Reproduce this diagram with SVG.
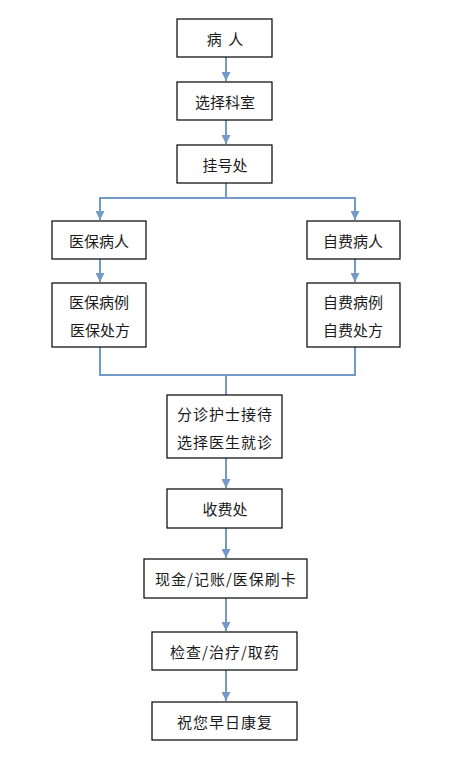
<svg xmlns="http://www.w3.org/2000/svg" width="463" height="757" viewBox="0 0 463 757">
<style>
.box{fill:#fff;stroke:#000;stroke-width:1.2}
.t{font-family:"Noto Sans CJK SC","Noto Sans CJK TC",sans-serif;font-size:15px;fill:#1a1a1a;text-anchor:middle;dominant-baseline:central}
.c{fill:none;stroke:#7399C6;stroke-width:2}
</style>
<defs>
<marker id="ah" viewBox="0 0 10 10" refX="10" refY="5" markerWidth="4.5" markerHeight="4.5" orient="auto" markerUnits="strokeWidth">
<path d="M0,0 L10,5 L0,10 z" fill="#7399C6"/>
</marker>
</defs>
<rect width="463" height="757" fill="#fff"/>
<g id="connectors">
<line class="c" x1="226" y1="57" x2="226" y2="81" marker-end="url(#ah)"/>
<line class="c" x1="226" y1="120" x2="226" y2="144" marker-end="url(#ah)"/>
<polyline class="c" points="226,183 226,198"/>
<polyline class="c" points="100,198 355,198"/>
<line class="c" x1="100" y1="197" x2="100" y2="220" marker-end="url(#ah)"/>
<line class="c" x1="355" y1="197" x2="355" y2="220" marker-end="url(#ah)"/>
<line class="c" x1="100" y1="259" x2="100" y2="282" marker-end="url(#ah)"/>
<line class="c" x1="355" y1="259" x2="355" y2="282" marker-end="url(#ah)"/>
<polyline class="c" points="100,347 100,375 355,375 355,347"/>
<line class="c" x1="226" y1="375" x2="226" y2="395"/>
<line class="c" x1="226" y1="458" x2="226" y2="488" marker-end="url(#ah)"/>
<line class="c" x1="226" y1="528" x2="226" y2="558" marker-end="url(#ah)"/>
<line class="c" x1="226" y1="598" x2="226" y2="631" marker-end="url(#ah)"/>
<line class="c" x1="226" y1="670" x2="226" y2="701" marker-end="url(#ah)"/>
</g>
<g id="n1"><rect class="box" x="177" y="19" width="95" height="38"/><text class="t" x="225" y="38" xml:space="preserve">病  人</text></g>
<g id="n2"><rect class="box" x="177" y="82" width="95" height="38"/><text class="t" x="225" y="101">选择科室</text></g>
<g id="n3"><rect class="box" x="177" y="145" width="95" height="38"/><text class="t" x="225" y="164">挂号处</text></g>
<g id="n4"><rect class="box" x="52" y="221" width="94" height="38"/><text class="t" x="99" y="240">医保病人</text></g>
<g id="n5"><rect class="box" x="307" y="221" width="93" height="38"/><text class="t" x="353" y="240">自费病人</text></g>
<g id="n6"><rect class="box" x="52" y="283" width="94" height="64"/><text class="t" x="99" y="301">医保病例</text><text class="t" x="100" y="329">医保处方</text></g>
<g id="n7"><rect class="box" x="307" y="283" width="93" height="64"/><text class="t" x="353" y="301">自费病例</text><text class="t" x="353" y="329">自费处方</text></g>
<g id="n8"><rect class="box" x="167" y="395" width="115" height="63"/><text class="t" x="225" y="413" letter-spacing="1">分诊护士接待</text><text class="t" x="225" y="441" letter-spacing="1">选择医生就诊</text></g>
<g id="n9"><rect class="box" x="167" y="489" width="115" height="39"/><text class="t" x="225" y="508">收费处</text></g>
<g id="n10"><rect class="box" x="144" y="559" width="163" height="39"/><text class="t" x="226" y="578" letter-spacing="1">现金/记账/医保刷卡</text></g>
<g id="n11"><rect class="box" x="152" y="632" width="145" height="38"/><text class="t" x="225" y="651" letter-spacing="1">检查/治疗/取药</text></g>
<g id="n12"><rect class="box" x="152" y="702" width="145" height="38"/><text class="t" x="225" y="721" letter-spacing="1">祝您早日康复</text></g>
</svg>
